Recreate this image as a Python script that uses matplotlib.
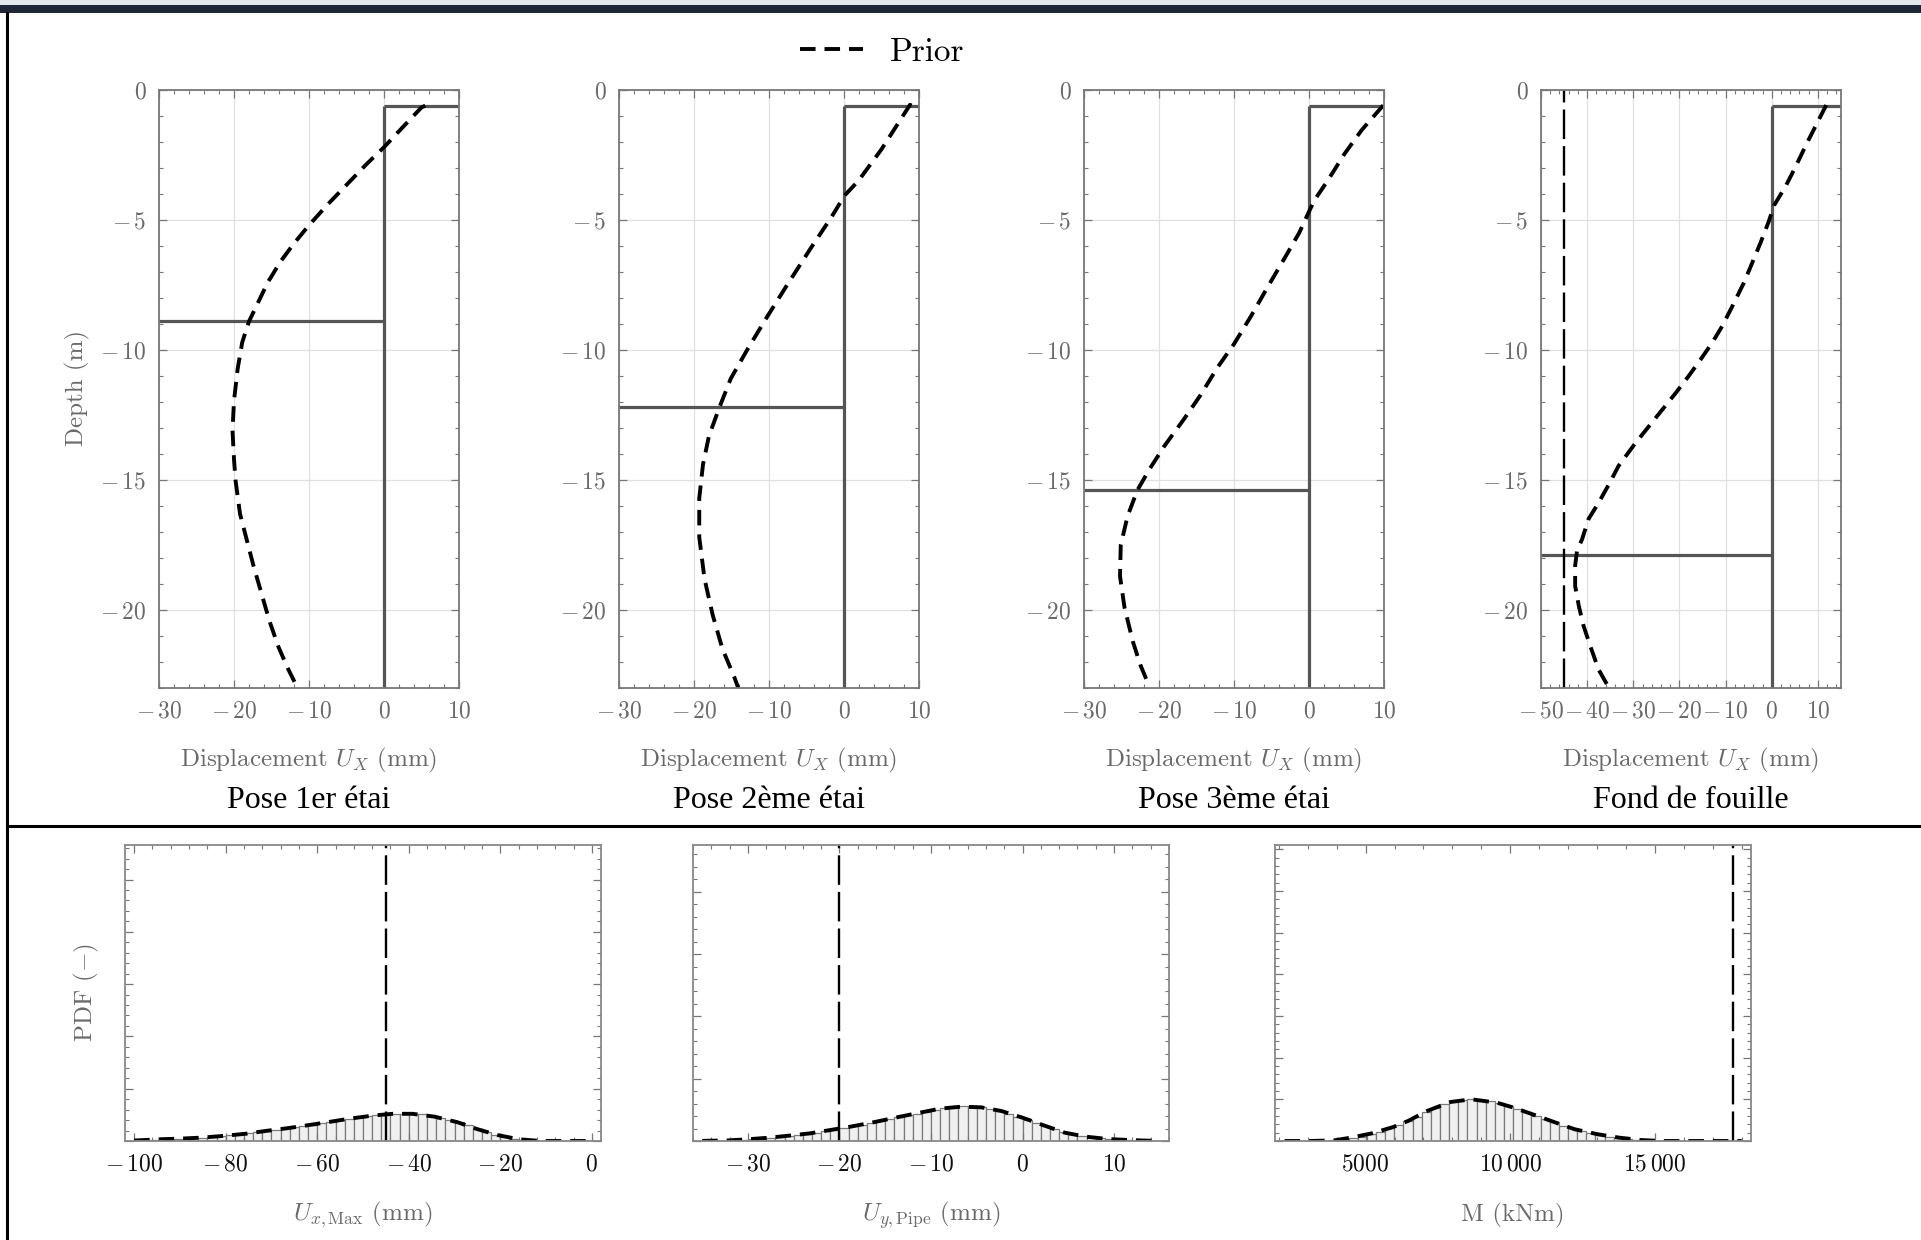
import numpy as np
import matplotlib
matplotlib.use("Agg")
import matplotlib.pyplot as plt
from matplotlib.ticker import MultipleLocator, FuncFormatter, NullFormatter
from matplotlib.lines import Line2D
from matplotlib.patches import Rectangle

plt.rcParams['mathtext.fontset'] = 'cm'
plt.rcParams['font.family'] = 'cmr10'
plt.rcParams['axes.formatter.use_mathtext'] = True

# ---------------- data ----------------
stage_titles = ["Pose 1er étai", "Pose 2ème étai", "Pose 3ème étai", "Fond de fouille"]
strut_depth = [-8.9, -12.2, -15.4, -17.9]
wall_top = -0.6
depth_range = (-23, 0)
top_xlims = [(-30, 10), (-30, 10), (-30, 10), (-50, 15)]
top_threshold = [None, None, None, -45]

prior1_x = [5.5, 5.0, 2.6, 0.0, -2.5, -5.0, -7.5, -10.0, -12.0, -13.8, -15.5, -17.0,
            -18.0, -18.9, -19.5, -20.0, -20.2, -20.0, -19.8, -19.2, -18.3, -17.4, -16.2, -15.3,
            -14.1, -12.9, -11.7]
prior1_z = [-0.6, -0.67, -1.4, -2.2, -2.9, -3.65, -4.4, -5.2, -5.9, -6.6, -7.4, -8.3,
            -8.9, -9.7, -10.7, -11.95, -13.1, -14.2, -15.0, -16.3, -17.3, -18.3, -19.5, -20.4,
            -21.4, -22.2, -22.9]
prior2_x = [9.0, 8.8, 5.0, 1.9, 0.1, -1.7, -4.4, -7.5, -10.2, -12.8, -15.1, -16.6, -18.0, -18.8,
            -19.3, -19.3, -18.6, -17.5, -16.2, -14.6, -14.1]
prior2_z = [-0.6, -0.57, -2.28, -3.5, -4.05, -4.9, -6.07, -7.46, -8.7, -9.94, -11.1, -12.2, -13.3,
            -14.4, -15.7, -17.2, -18.8, -20.2, -21.5, -22.6, -23.0]
prior3_x = [9.9, 7.0, 4.7, 2.5, 0.7, -0.2, -1.3, -3.3, -5.5, -7.8, -10.0, -12.2, -14.5, -16.7,
            -19.3, -21.3, -22.9, -24.2, -25.1, -25.2, -24.6, -23.5, -22.5, -21.5]
prior3_z = [-0.59, -1.55, -2.47, -3.48, -4.25, -4.8, -5.49, -6.49, -7.57, -8.73, -9.77, -10.67,
            -11.75, -12.67, -13.7, -14.6, -15.4, -16.4, -17.5, -18.7, -19.9, -21.2, -22.1, -22.8]
prior4_x = [11.8, 9.6, 7.4, 5.3, 3.1, 0.5, -0.7, -2.4, -4.2, -6.0, -8.5, -10.7, -12.9, -15.4,
            -18.0, -20.8, -23.7, -26.6, -29.5, -33.2, -35.3, -37.5, -39.7, -41.1, -42.2, -42.6,
            -42.6, -41.8, -40.8, -39.3, -37.5, -35.7]
prior4_z = [-0.58, -1.35, -2.12, -2.9, -3.67, -4.44, -5.08, -5.86, -6.63, -7.4, -8.3, -9.07,
            -9.72, -10.36, -11.0, -11.65, -12.29, -12.93, -13.57, -14.46, -15.17, -15.87, -16.5,
            -17.28, -17.73, -18.3, -19.08, -19.85, -20.6, -21.4, -22.3, -22.86]
prior_profiles = [(prior1_x, prior1_z), (prior2_x, prior2_z), (prior3_x, prior3_z), (prior4_x, prior4_z)]

# bottom row: histograms (50 bins) + prior pdf
hist1_range = (-100, 0)
hist1 = [0.5, 0.8, 1.2, 1.5, 2.0, 2.3, 2.8, 3.3, 4.0, 4.7, 5.4, 6.3, 7.2, 8.3, 9.6, 10.8, 12.0,
         13.2, 14.4, 15.6, 17.0, 18.4, 19.8, 21.2, 22.5, 23.8, 24.8, 25.6, 26.0, 26.2, 26.0, 25.4,
         24.0, 22.4, 20.4, 18.0, 15.0, 11.6, 8.6, 6.0, 3.8, 2.2, 1.2, 0.5, 0.2, 0, 0, 0, 0, 0]  # x1e-3
pdf1_x = [-100, -98.8, -94.1, -89.7, -85, -80.2, -75.5, -71.1, -66.4, -61.7, -57.3, -53, -47.9,
          -43.5, -39.2, -34.4, -29.4, -25, -20.6, -16, -11.2, -6.8, -2.6, 0]
pdf1_y = [0.5, 0.7, 1.7, 2.3, 3.3, 5, 7, 9.7, 12.3, 15.3, 18.3, 21.3, 24.3, 26, 26, 23.3, 18,
          11.3, 5.7, 1.7, 0, 0, 0, 0]

hist2_range = (-35, 15)
hist2 = [0.3, 0.5, 0.8, 1.2, 1.8, 2.5, 3.4, 4.5, 5.8, 8.0, 9.0, 11.0, 13.0, 15.5, 17.5, 20.5,
         23.5, 26.0, 29.0, 32.0, 35.0, 38.0, 41.0, 44.0, 47.0, 50.0, 52.5, 54.5, 55.5, 55.5, 54.5,
         52.0, 48.5, 44.0, 39.0, 34.0, 29.0, 24.0, 19.0, 14.0, 11.5, 8.5, 6.0, 4.2, 3.0, 2.0, 1.3,
         0.8, 0.5, 0.3]  # x1e-3
pdf2_x = [-35, -34.6, -32.1, -30.1, -27.7, -25.5, -23.2, -21.0, -18.8, -16.5, -13.9, -11.6, -9.0,
          -6.7, -4.5, -2.3, 0.0, 2.2, 4.6, 6.9, 9.3, 11.6, 13.8, 15]
pdf2_y = [0.2, 0.3, 1.0, 2.7, 5.3, 8.6, 12.3, 17.6, 23.0, 29.4, 37.4, 44.4, 51.9, 55.1, 54.0, 48.1,
          37.4, 25.7, 13.4, 7.0, 3.2, 1.6, 0.5, 0.3]

hist3_range = (2200, 18000)
hist3 = [0, 0, 0, 0.5, 1, 3, 6, 12, 20, 32, 45, 60, 78, 96, 117, 140, 160, 178, 190, 198, 200, 197,
         190, 180, 168, 154, 138, 122, 106, 90, 74, 60, 48, 37, 28, 21, 15, 10, 6, 4, 2, 1, 0.5,
         0, 0, 0, 0, 0, 0, 0]  # x1e-6
pdf3_x = [2200, 2234, 3109, 3912, 4496, 5226, 5956, 6467, 7124, 7927, 8657, 9533, 10117, 10774,
          11577, 12234, 13036, 13766, 14496, 15226, 15956, 16686, 17416, 18000]
pdf3_y = [0, 0, 0, 3.2, 16, 37, 67, 96, 144, 187, 200, 184, 160, 128, 88, 56, 32, 16, 4.8, 0, 0,
          0, 0, 0]

bottom_scales = [1e-3, 1e-3, 1e-6]
bottom_xlims = [(-102, 2), (-36, 16), (1870, 18320)]
bottom_ylims = [0.283, 0.475, 0.00142]
bottom_ymajor = [0.05, 0.1, 0.0002]
bottom_xmajor = [20, 10, 5000]
bottom_xminor = [4, 2, 1000]
bottom_threshold = [-45, -20, 17700]
bottom_xlabels = [r"$U_{x,\mathrm{Max}}$ (mm)", r"$U_{y,\mathrm{Pipe}}$ (mm)", "M (kNm)"]

# ---------------- figure ----------------
W, H, DPI = 1921, 1240, 100
fig = plt.figure(figsize=(W / DPI, H / DPI), dpi=DPI)

def fx(px):
    return px / W

def fy(py):
    return 1 - py / H

SPINE = '#777777'
TICKC = '#777777'
LABELG = '#6a6a6a'
WALL = '#555555'
PRIOR_LW = 2.8
PRIOR_DASH = (4.0, 2.3)
THR_DASH = (12.5, 3.0)


def tick_fmt(v, pos):
    iv = int(round(v))
    if abs(iv) >= 10000:
        s = f"{abs(iv):,}".replace(",", r"\,")
    else:
        s = str(abs(iv))
    if iv < 0:
        s = r"-\," + s
    return f"${s}$"


# top row
top_lefts = [159, 619, 1084, 1541]
top_w = 300
top_y0, top_y1 = 90, 688
for i in range(4):
    ax = fig.add_axes([fx(top_lefts[i]), fy(top_y1), fx(top_w), (top_y1 - top_y0) / H])
    xl = top_xlims[i]
    ax.set_xlim(*xl)
    ax.set_ylim(*depth_range)
    ax.xaxis.set_major_locator(MultipleLocator(10))
    ax.xaxis.set_minor_locator(MultipleLocator(2))
    ax.yaxis.set_major_locator(MultipleLocator(5))
    ax.yaxis.set_minor_locator(MultipleLocator(1))
    ax.xaxis.set_major_formatter(FuncFormatter(tick_fmt))
    ax.yaxis.set_major_formatter(FuncFormatter(tick_fmt))
    ax.tick_params(which='both', direction='in', top=True, right=True, color=TICKC)
    ax.tick_params(which='major', length=6, width=0.9, labelsize=17, labelcolor=LABELG, pad=9)
    ax.tick_params(which='minor', length=3, width=0.8)
    ax.grid(True, which='major', color='#e0e0e0', lw=0.9)
    ax.set_axisbelow(True)
    for s in ax.spines.values():
        s.set_color(SPINE)
        s.set_linewidth(1.3)
    # wall + strut
    ax.plot([xl[0], 0], [strut_depth[i], strut_depth[i]], color=WALL, lw=2.3, solid_capstyle='butt')
    ax.plot([0, 0], [wall_top, depth_range[0]], color=WALL, lw=2.3, solid_capstyle='butt')
    ax.plot([0, xl[1]], [wall_top, wall_top], color=WALL, lw=2.3, solid_capstyle='butt')
    if top_threshold[i] is not None:
        ax.axvline(top_threshold[i], color='k', lw=1.7, dashes=THR_DASH)
    px, pz = prior_profiles[i]
    ax.plot(px, pz, color='k', lw=PRIOR_LW, dashes=PRIOR_DASH, clip_on=True)
    cx = top_lefts[i] + top_w / 2
    fig.text(fx(cx), fy(760), r"Displacement $U_X$ (mm)", ha='center', va='center',
             fontsize=18, color=LABELG, fontfamily='cmr10')
    fig.text(fx(cx), fy(801), stage_titles[i], ha='center', va='center', fontsize=23,
             color='black', fontfamily='Liberation Serif')

fig.text(fx(77), fy(388), "Depth (m)", rotation=90, ha='center', va='center', fontsize=18,
         color=LABELG, fontfamily='cmr10')

# bottom row
bot_lefts = [125, 693, 1275]
bot_w = 476
bot_y0, bot_y1 = 845, 1141
hists = [hist1, hist2, hist3]
ranges = [hist1_range, hist2_range, hist3_range]
pdfs = [(pdf1_x, pdf1_y), (pdf2_x, pdf2_y), (pdf3_x, pdf3_y)]
for i in range(3):
    ax = fig.add_axes([fx(bot_lefts[i]), fy(bot_y1), fx(bot_w), (bot_y1 - bot_y0) / H])
    sc = bottom_scales[i]
    h = np.array(hists[i]) * sc
    edges = np.linspace(ranges[i][0], ranges[i][1], len(h) + 1)
    ax.bar(edges[:-1], h, width=np.diff(edges), align='edge', color='#f0f0f0',
           edgecolor='#7a7a7a', lw=0.9)
    ax.plot(pdfs[i][0], np.array(pdfs[i][1]) * sc, color='k', lw=PRIOR_LW, dashes=PRIOR_DASH)
    ax.axvline(bottom_threshold[i], color='k', lw=1.7, dashes=THR_DASH)
    ax.set_xlim(*bottom_xlims[i])
    ax.set_ylim(0, bottom_ylims[i])
    ax.xaxis.set_major_locator(MultipleLocator(bottom_xmajor[i]))
    ax.xaxis.set_minor_locator(MultipleLocator(bottom_xminor[i]))
    ax.yaxis.set_major_locator(MultipleLocator(bottom_ymajor[i]))
    ax.yaxis.set_minor_locator(MultipleLocator(bottom_ymajor[i] / 5))
    ax.xaxis.set_major_formatter(FuncFormatter(tick_fmt))
    ax.yaxis.set_major_formatter(NullFormatter())
    ax.tick_params(which='both', direction='in', top=True, right=True, color=TICKC)
    ax.tick_params(which='major', length=6, width=0.9, labelsize=17, labelcolor='#111111', pad=9)
    ax.tick_params(which='minor', length=3, width=0.8)
    for s in ax.spines.values():
        s.set_color('#888888')
        s.set_linewidth(1.3)
    fig.text(fx(bot_lefts[i] + bot_w / 2), fy(1215), bottom_xlabels[i], ha='center', va='center',
             fontsize=18, color=LABELG, fontfamily='cmr10')

fig.text(fx(86), fy(992), r"PDF ($-$)", rotation=90, ha='center', va='center', fontsize=18,
         color=LABELG, fontfamily='cmr10')

# legend
handle = Line2D([], [], color='k', lw=PRIOR_LW, dashes=PRIOR_DASH)
leg = fig.legend([handle], ["Prior"], loc='center', bbox_to_anchor=(fx(882), fy(52)),
                 frameon=False, handlelength=1.9, handletextpad=0.8,
                 prop={'family': 'cmr10', 'size': 24})

# frame decorations (screenshot borders)
fig.add_artist(Rectangle((0, fy(5)), 1, 5 / H, transform=fig.transFigure, color='#e4e8ec', lw=0))
fig.add_artist(Rectangle((0, fy(13)), 1, 8 / H, transform=fig.transFigure, color='#1f2736', lw=0))
fig.add_artist(Line2D([fx(6.5), fx(6.5)], [0, fy(13)], transform=fig.transFigure, color='k', lw=2.2))
fig.add_artist(Line2D([fx(6.5), 1], [fy(826), fy(826)], transform=fig.transFigure, color='k', lw=2.2))

fig.savefig("out.png", dpi=DPI)
